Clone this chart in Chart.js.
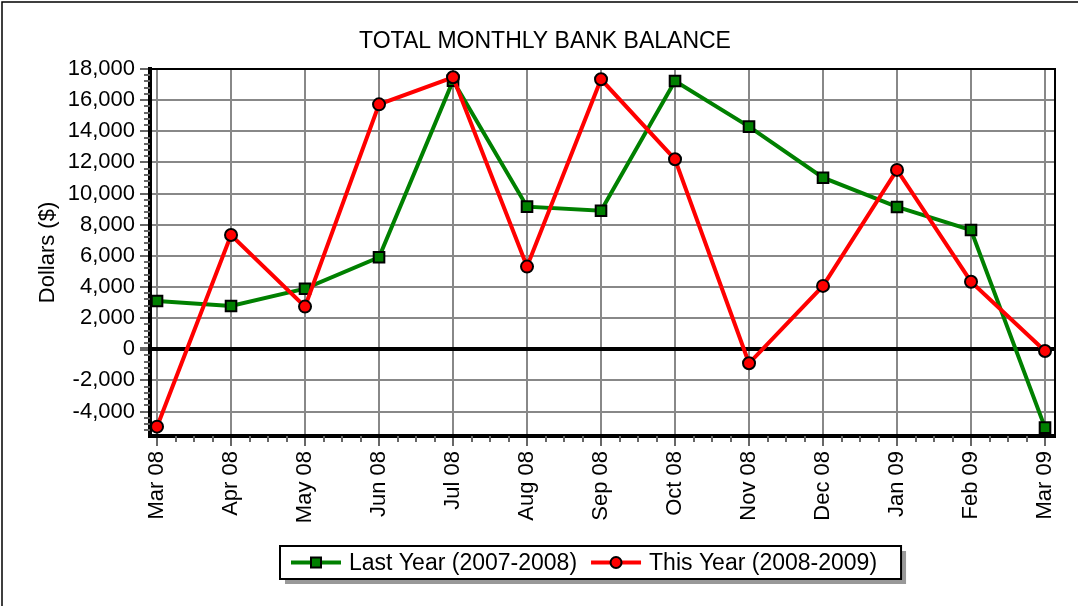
<!DOCTYPE html>
<html>
<head>
<meta charset="utf-8">
<script src="https://cdn.jsdelivr.net/npm/chart.js@4"></script>
<style>
  html, body { margin: 0; padding: 0; background: #fff; }
  canvas { display: block; }
</style>
</head>
<body>
<canvas id="balanceChart" width="1078" height="606"></canvas>
<script>
const chartTitle = "TOTAL MONTHLY BANK BALANCE";
const months = ["Mar 08", "Apr 08", "May 08", "Jun 08", "Jul 08", "Aug 08", "Sep 08",
                "Oct 08", "Nov 08", "Dec 08", "Jan 09", "Feb 09", "Mar 09"];
const lastYear = [3100, 2780, 3890, 5910, 17250, 9160, 8900, 17230, 14300, 11020, 9140, 7660, -5030];
const thisYear = [-4970, 7340, 2740, 15730, 17470, 5310, 17340, 12200, -900, 4070, 11520, 4340, -110];
const yTicks = [-4000, -2000, 0, 2000, 4000, 6000, 8000, 10000, 12000, 14000, 16000, 18000];

const FONT = '"Liberation Sans", Arial, sans-serif';

// white page, outer frame lines and the title
const pageFrame = {
  id: "pageFrame",
  beforeDraw(chart) {
    const c = chart.ctx;
    c.save();
    c.fillStyle = "#fff";
    c.fillRect(0, 0, chart.width, chart.height);
    c.strokeStyle = "#000";
    c.lineWidth = 1.5;
    c.beginPath();
    c.moveTo(2, chart.height);
    c.lineTo(2, 2);
    c.lineTo(chart.width, 2);
    c.stroke();
    c.fillStyle = "#000";
    c.font = "23px " + FONT;
    c.textAlign = "center";
    c.textBaseline = "middle";
    c.fillText(chartTitle, 545, 42);
    c.restore();
  },
  // minor ticks plus top/right frame of the plot
  beforeDatasetsDraw(chart) {
    const c = chart.ctx;
    const a = chart.chartArea;
    const x = chart.scales.x, y = chart.scales.y;
    c.save();
    c.strokeStyle = "#666";
    c.lineWidth = 2;
    c.beginPath();
    for (let v = y.min - (y.min % 400); v <= y.max; v += 400) {
      if (v % 2000 === 0 || v < y.min) continue;
      const py = Math.round(y.getPixelForValue(v));
      c.moveTo(a.left - 6, py);
      c.lineTo(a.left, py);
    }
    for (let v = 0; v < months.length - 1; v += 0.25) {
      if (v % 1 === 0) continue;
      const px = Math.round(x.getPixelForValue(v));
      c.moveTo(px, a.bottom);
      c.lineTo(px, a.bottom + 6);
    }
    c.stroke();
    c.strokeStyle = "#000";
    c.lineWidth = 2;
    c.beginPath();
    c.moveTo(a.left, a.top);
    c.lineTo(a.right, a.top);
    c.lineTo(a.right, a.bottom);
    c.stroke();
    c.restore();
  }
};

// legend box with line + marker samples
const lineLegend = {
  id: "lineLegend",
  afterDraw(chart) {
    const c = chart.ctx;
    const sets = chart.data.datasets;
    const top = 546, h = 33, left = 280;
    c.save();
    c.font = "23px " + FONT;
    let w = 11;
    sets.forEach((ds, i) => {
      w += 50 + 8 + c.measureText(ds.label).width + (i < sets.length - 1 ? 14 : 24);
    });
    c.fillStyle = "#999";
    c.fillRect(left + 5, top + 5, w, h);
    c.fillStyle = "#fff";
    c.fillRect(left, top, w, h);
    c.strokeStyle = "#000";
    c.lineWidth = 2;
    c.strokeRect(left, top, w, h);

    const cy = top + h / 2;
    let x = left + 11;
    sets.forEach((ds, i) => {
      c.strokeStyle = ds.borderColor;
      c.lineWidth = 4;
      c.beginPath();
      c.moveTo(x, cy);
      c.lineTo(x + 50, cy);
      c.stroke();
      c.fillStyle = ds.pointBackgroundColor;
      c.strokeStyle = "#000";
      c.lineWidth = 2;
      c.beginPath();
      if (ds.pointStyle === "rect") {
        c.rect(x + 20, cy - 5, 10, 10);
      } else {
        c.arc(x + 25, cy, 5.5, 0, Math.PI * 2);
      }
      c.fill();
      c.stroke();
      x += 58;
      c.fillStyle = "#000";
      c.textAlign = "left";
      c.textBaseline = "middle";
      c.fillText(ds.label, x, cy + 1);
      x += c.measureText(ds.label).width + 14;
    });
    c.restore();
  }
};

const ctx = document.getElementById("balanceChart").getContext("2d");

const chart = new Chart(ctx, {
  type: "line",
  data: {
    datasets: [{
      label: "Last Year (2007-2008)",
      data: lastYear.map((v, i) => ({ x: i, y: v })),
      borderColor: "#008000",
      borderWidth: 4,
      pointStyle: "rect",
      pointRadius: 7.5,
      pointBackgroundColor: "#008000",
      pointBorderColor: "#000",
      pointBorderWidth: 2,
      order: 2
    }, {
      label: "This Year (2008-2009)",
      data: thisYear.map((v, i) => ({ x: i, y: v })),
      borderColor: "#ff0000",
      borderWidth: 4,
      pointStyle: "circle",
      pointRadius: 6,
      pointBackgroundColor: "#ff0000",
      pointBorderColor: "#000",
      pointBorderWidth: 2,
      order: 1
    }]
  },
  options: {
    responsive: false,
    animation: false,
    layout: { padding: { top: 69, right: 23, left: 0, bottom: 0 } },
    plugins: {
      legend: { display: false },
      tooltip: { enabled: false }
    },
    scales: {
      x: {
        type: "linear",
        min: -0.095,
        max: 12.135,
        afterBuildTicks: s => { s.ticks = months.map((m, i) => ({ value: i })); },
        afterFit: s => { s.height = 170; },
        ticks: {
          autoSkip: false,
          minRotation: 90,
          maxRotation: 90,
          padding: 5,
          color: "#000",
          font: { family: FONT, size: 22 },
          callback: v => months[v]
        },
        grid: { color: "#888", lineWidth: 2, tickLength: 10, tickColor: "#666" },
        border: { color: "#000", width: 4 }
      },
      y: {
        min: -5570,
        max: 18000,
        afterBuildTicks: s => { s.ticks = yTicks.map(v => ({ value: v })); },
        afterFit: s => { s.width = 150; },
        ticks: {
          padding: 5,
          color: "#000",
          font: { family: FONT, size: 22 },
          callback: v => v.toLocaleString("en-US")
        },
        title: {
          display: true,
          text: "Dollars ($)",
          color: "#000",
          font: { family: FONT, size: 22 },
          padding: { top: 35 }
        },
        grid: {
          color: c => c.tick && c.tick.value === 0 ? "#000" : "#888",
          lineWidth: c => c.tick && c.tick.value === 0 ? 4 : 2,
          tickLength: 10,
          tickColor: "#666"
        },
        border: { color: "#000", width: 4 }
      }
    }
  },
  plugins: [pageFrame, lineLegend]
});
</script>
</body>
</html>
